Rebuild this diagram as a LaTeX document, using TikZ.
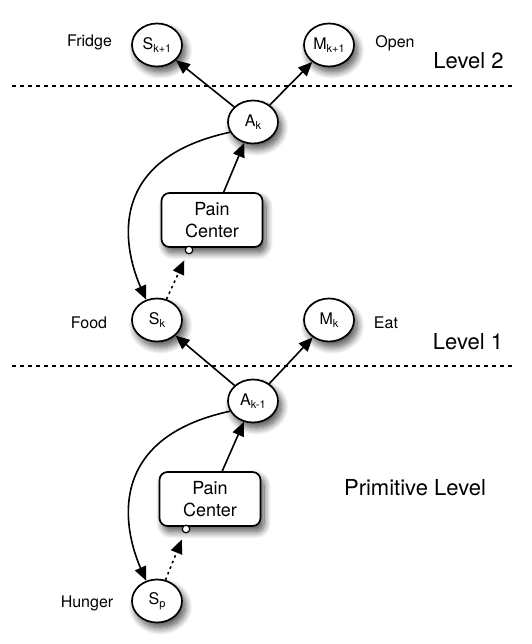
\documentclass[tikz,border=0pt]{standalone}
\usepackage{fontspec}
\setmainfont{TeX Gyre Heros}
\usetikzlibrary{arrows.meta,shadows.blur,shapes.geometric}
\newcommand\lowsub[1]{\raisebox{-3.5pt}{\fontsize{11}{11}\selectfont #1}}
\begin{document}
\begin{tikzpicture}[x=1pt,y=1pt,
  shd/.style={blur shadow={shadow xshift=3.5pt, shadow yshift=-5.5pt, shadow blur radius=7pt, shadow blur steps=12, shadow opacity=70}},
  state/.style={ellipse, draw, line width=1.7pt, fill=white, minimum width=50pt, minimum height=43pt, inner sep=0pt, font=\fontsize{16}{18}\selectfont, shd},
  pain/.style={rectangle, rounded corners=8pt, draw, line width=1.7pt, fill=white, minimum width=101pt, minimum height=54pt, align=center, font=\fontsize{18}{22}\selectfont, shd},
  knob/.style={circle, draw, line width=1.2pt, fill=white, minimum size=7.5pt, inner sep=0pt},
  lbl/.style={font=\fontsize{16}{18}\selectfont, anchor=base},
  lvl/.style={font=\fontsize{22}{26}\selectfont, anchor=base},
  arr/.style={line width=1.6pt, -{Triangle[length=14pt,width=12pt]}},
  dotarr/.style={line width=1.6pt, dash pattern=on 2.5pt off 3.5pt, -{Triangle[length=14pt,width=12pt]}, shorten >=7pt},
  sep/.style={line width=1.3pt, dash pattern=on 3.5pt off 4.5pt},
]
\useasboundingbox (0,0) rectangle (531,-644);

% separators
\coordinate (l2a) at (12,-86);
\coordinate (l2b) at (512,-86);
\coordinate (l1a) at (12,-366);
\coordinate (l1b) at (512,-366);
\draw[sep] (l2a) -- (l2b);
\draw[sep] (l1a) -- (l1b);

% nodes
\node[state] (sk1) at (157,-45) {S\lowsub{k+1}};
\node[state] (mk1) at (329,-45) {M\lowsub{k+1}};
\node[state] (ak)  at (253,-122) {A\lowsub{k}};
\node[pain]  (pc1) at (212,-220) {Pain\\Center};
\node[knob]  (o1)  at (189,-250) {};
\node[state] (sk)  at (157,-320) {S\lowsub{k}};
\node[state] (mk)  at (329,-320) {M\lowsub{k}};
\node[state] (ak1) at (253,-401) {A\lowsub{k-1}};
\node[pain]  (pc2) at (210,-499) {Pain\\Center};
\node[knob]  (o2)  at (186,-529) {};
\node[state] (sp)  at (157,-601) {S\lowsub{p}};

% labels
\node[lbl] (fridge) at (89.5,-47) {Fridge};
\node[lbl] (open)   at (395,-48) {Open};
\node[lvl] (lev2)   at (468.5,-69) {Level 2};
\node[lbl] (food)   at (89,-328) {Food};
\node[lbl] (eat)    at (386,-328) {Eat};
\node[lvl] (lev1)   at (468,-349) {Level 1};
\node[lvl] (prim)   at (415,-495) {Primitive Level};
\node[lbl] (hunger) at (87,-607) {Hunger};

% connectors level 2
\draw[arr] (ak) -- (sk1);
\draw[arr] (ak) -- (mk1);
\draw[arr] (pc1) -- (ak);
\draw[arr] (ak.204) .. controls +(-130,-28) and +(-20,45) .. (sk.118);
\draw[dotarr] (sk) -- (o1);

% connectors level 1
\draw[arr] (ak1) -- (sk);
\draw[arr] (ak1) -- (mk);
\draw[arr] (pc2) -- (ak1);
\draw[arr] (ak1.204) .. controls +(-130,-28) and +(-20,45) .. (sp.118);
\draw[dotarr] (sp) -- (o2);
\end{tikzpicture}
\end{document}
